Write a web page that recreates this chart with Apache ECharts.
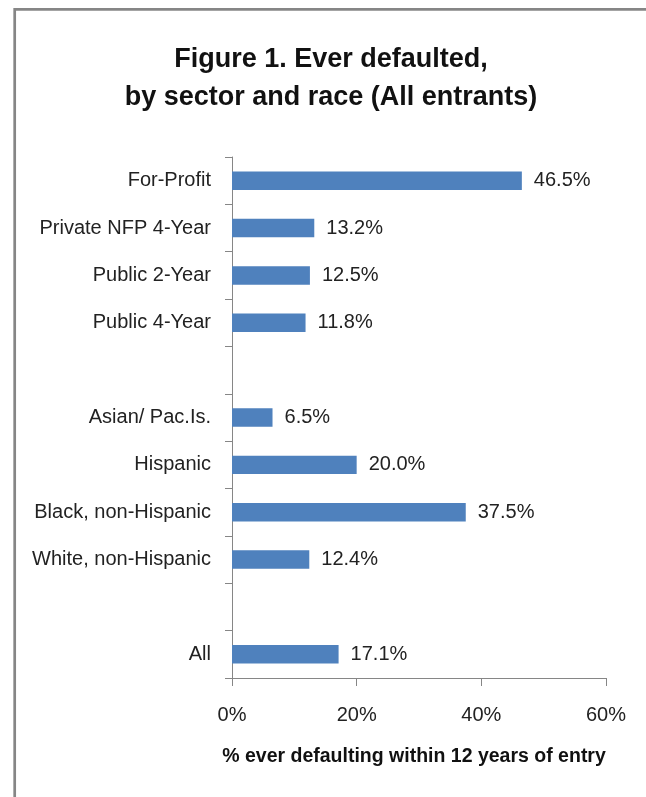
<!DOCTYPE html>
<html>
<head>
<meta charset="utf-8">
<script src="https://cdn.jsdelivr.net/npm/echarts@6/dist/echarts.min.js"></script>
<style>
html,body{margin:0;padding:0;background:#fff;}
#chart{width:646px;height:797px;}
</style>
</head>
<body>
<div id="chart"></div>
<script>
var categories = ['For-Profit', 'Private NFP 4-Year', 'Public 2-Year', 'Public 4-Year', ' ',
  'Asian/ Pac.Is.', 'Hispanic', 'Black, non-Hispanic', 'White, non-Hispanic', '  ', 'All'];
var values = [46.5, 13.2, 12.5, 11.8, null, 6.5, 20.0, 37.5, 12.4, null, 17.1];
var xTicks = [0, 20, 40, 60];
var titleText = 'Figure 1. Ever defaulted,\nby sector and race (All entrants)';
var xAxisTitle = '% ever defaulting within 12 years of entry';

var FONT = '"Liberation Sans", Arial, sans-serif';
var chart = echarts.init(document.getElementById('chart'), null, {renderer: 'canvas'});
chart.setOption({
  animation: false,
  backgroundColor: '#ffffff',
  graphic: [{
    type: 'rect', shape: {x: 14.7, y: 9.3, width: 800, height: 900},
    style: {fill: 'none', stroke: '#868686', lineWidth: 2.7}, silent: true
  }],
  title: {
    text: titleText, left: 326, top: 36, textAlign: 'center',
    textStyle: {fontFamily: FONT, fontWeight: 'bold', fontSize: 27, lineHeight: 38, color: '#111'}
  },
  grid: {left: 232, right: 40, top: 157, bottom: 119, containLabel: false},
  xAxis: {
    type: 'value', min: xTicks[0], max: xTicks[xTicks.length - 1], interval: 20,
    axisLine: {show: true, lineStyle: {color: '#868686', width: 1}},
    axisTick: {show: true, length: 8, lineStyle: {color: '#868686'}},
    splitLine: {show: false},
    axisLabel: {margin: 27, formatter: '{value}%', fontFamily: FONT, fontSize: 20, color: '#222'},
    name: xAxisTitle, nameLocation: 'middle', nameGap: 69,
    nameTextStyle: {fontFamily: FONT, fontWeight: 'bold', fontSize: 19.5, color: '#111', padding: [0, 10, 0, 0]}
  },
  yAxis: {
    type: 'category', data: categories, inverse: true,
    axisLine: {show: true, lineStyle: {color: '#868686', width: 1}},
    axisTick: {show: true, length: 7, lineStyle: {color: '#868686'}},
    axisLabel: {margin: 21, fontFamily: FONT, fontSize: 20, color: '#222'}
  },
  series: [{
    type: 'bar', data: values, barCategoryGap: '61%',
    itemStyle: {color: '#4F81BD'},
    label: {show: true, position: 'right', distance: 12, fontFamily: FONT, fontSize: 20, color: '#222',
      formatter: function (p) { return p.value == null ? '' : p.value.toFixed(1) + '%'; }}
  }]
});
</script>
</body>
</html>
